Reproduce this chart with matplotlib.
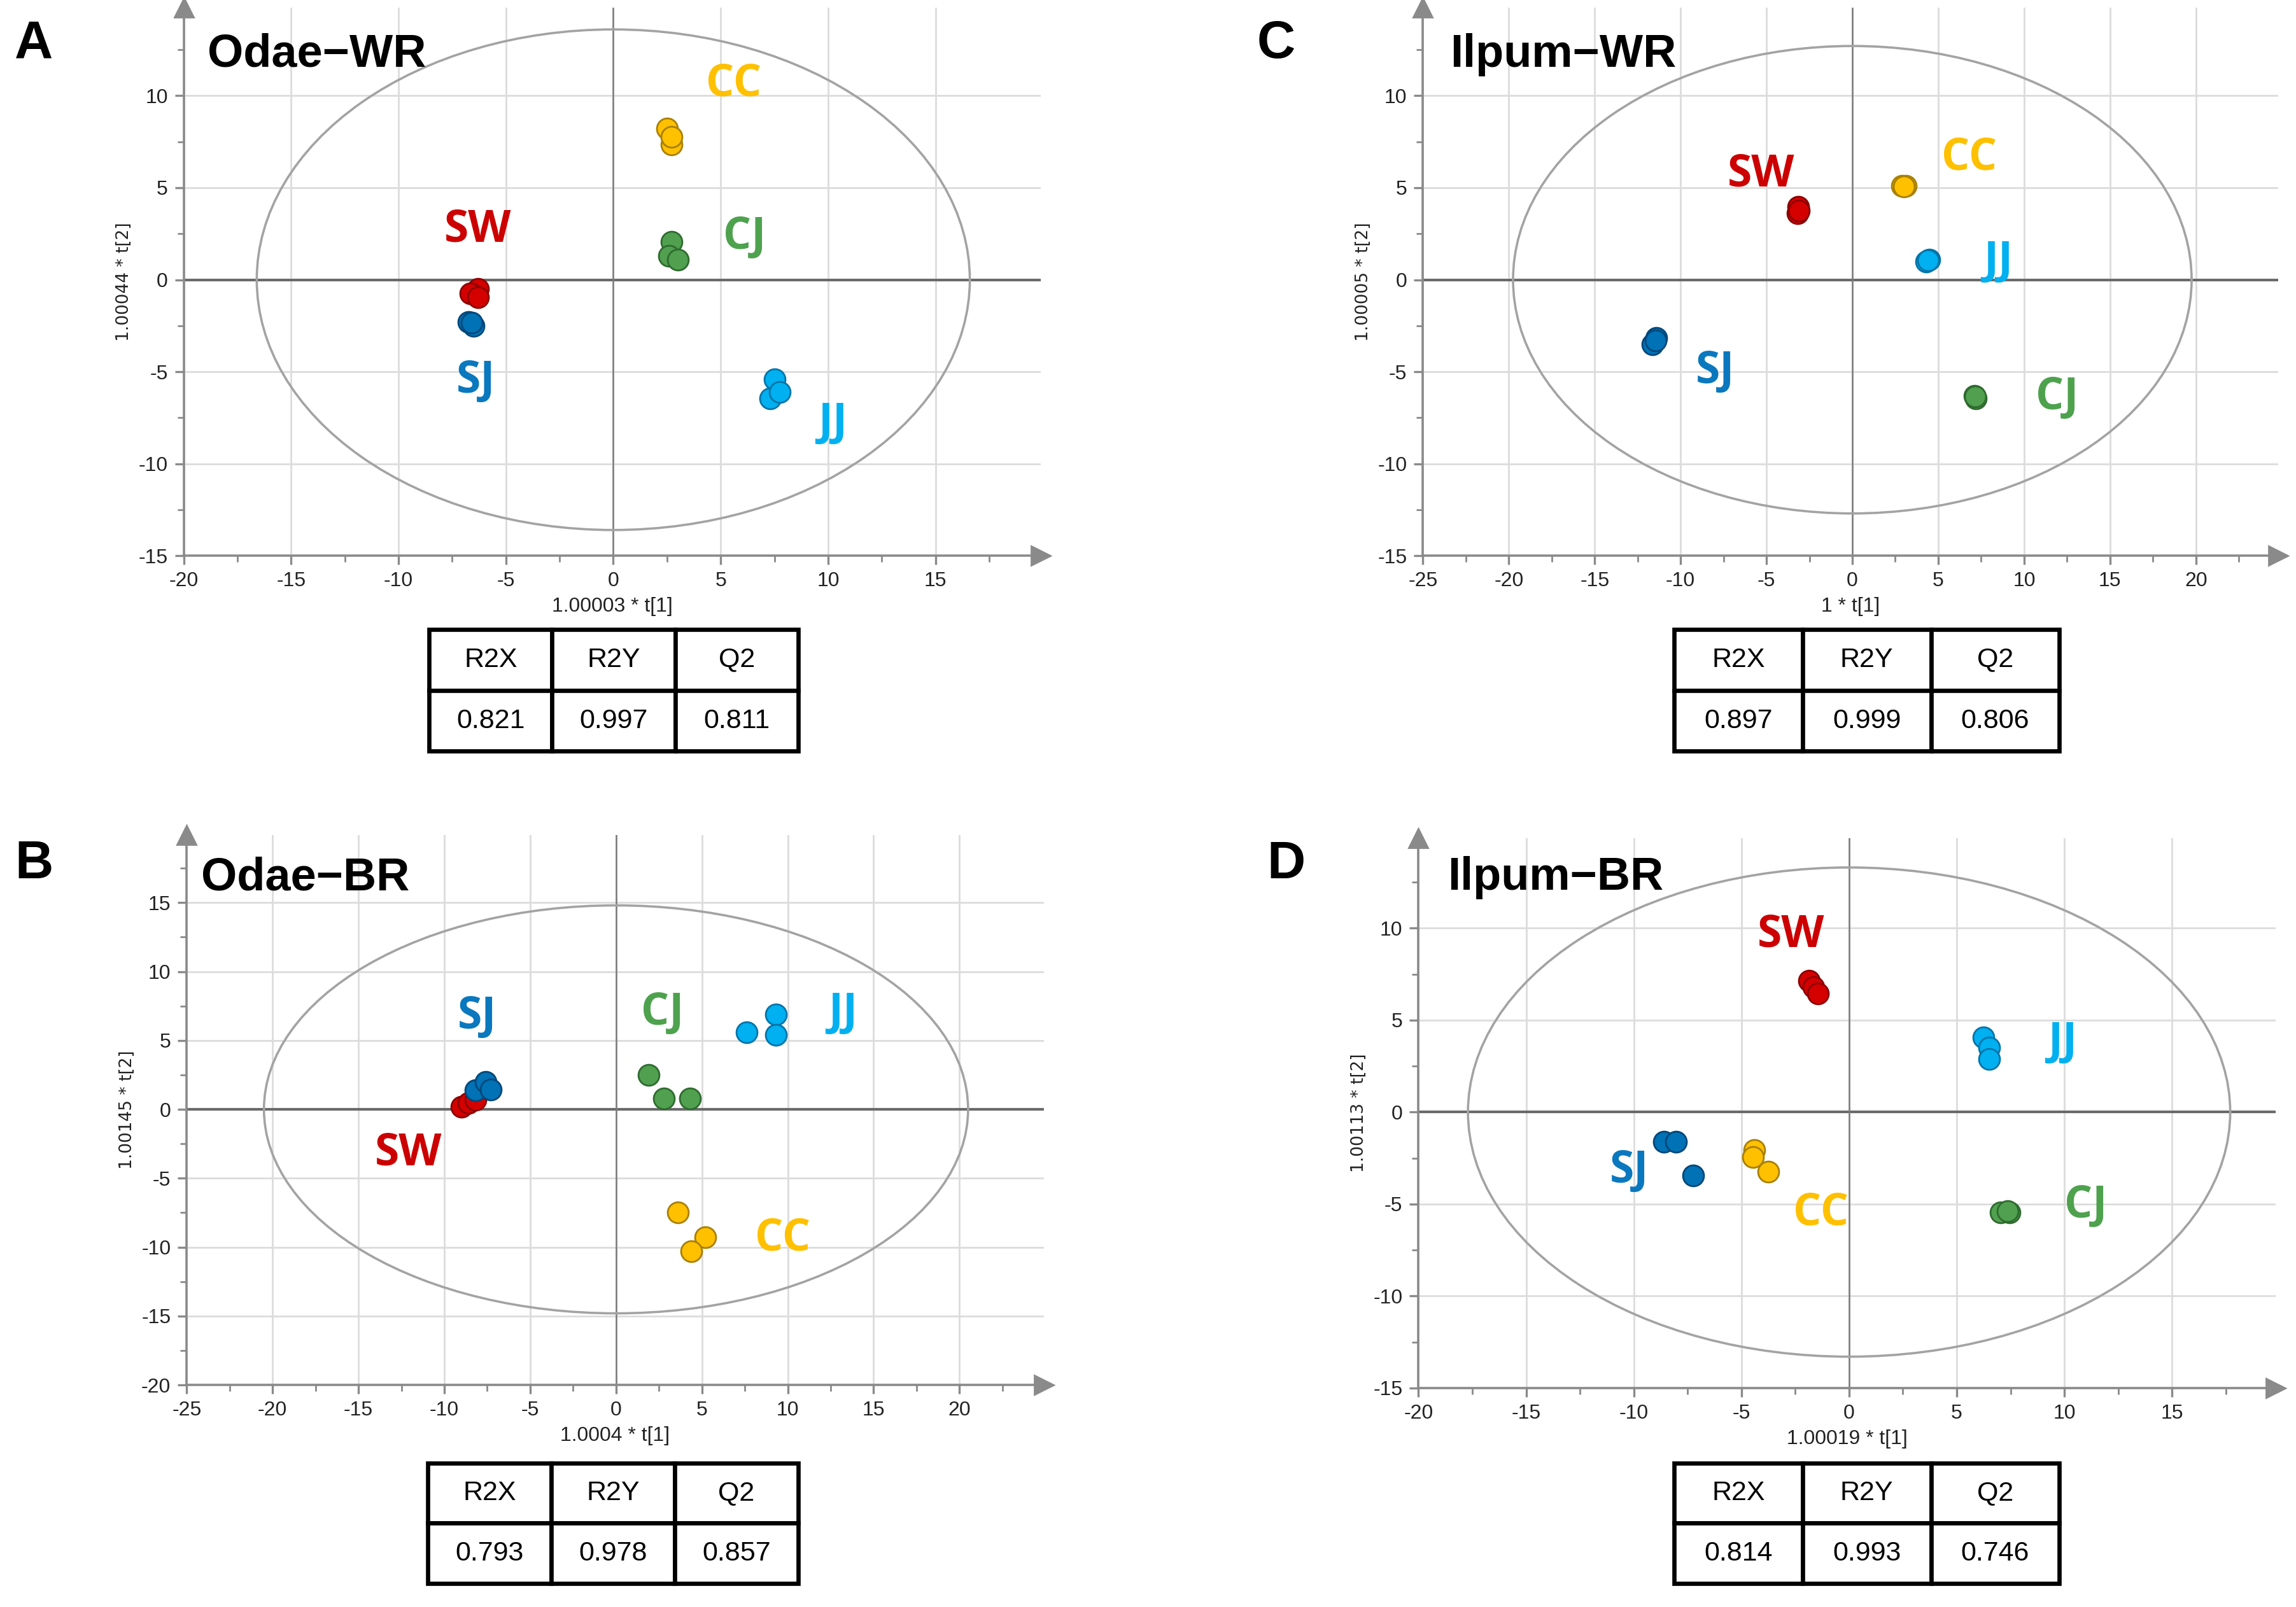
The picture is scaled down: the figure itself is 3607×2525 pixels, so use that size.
import matplotlib.pyplot as plt
from matplotlib.patches import Ellipse
from matplotlib.ticker import MultipleLocator

plt.rcParams['font.family'] = ['Liberation Sans Narrow', 'Liberation Sans', 'DejaVu Sans']
plt.rcParams['axes.unicode_minus'] = False

# --- data --------------------------------------------------------------
GROUPS = ['SW', 'SJ', 'CC', 'CJ', 'JJ']          # 3 replicates each, in this order
STAT_NAMES = ['R2X', 'R2Y', 'Q2']

ODAE_WR_T1 = [-6.3, -6.65, -6.3,  -6.75, -6.5, -6.6,  2.5, 2.7, 2.7,  2.7, 2.6, 3.0,  7.5, 7.3, 7.75]
ODAE_WR_T2 = [-0.5, -0.75, -0.95, -2.3, -2.5, -2.35,  8.2, 7.35, 7.75,  2.05, 1.3, 1.1,  -5.4, -6.45, -6.1]
ODAE_WR_STATS = [0.821, 0.997, 0.811]
ODAE_WR_ELLIPSE = [16.6, 13.6]

ILPUM_WR_T1 = [-3.15, -3.2, -3.1,  -11.65, -11.4, -11.45,  2.9, 3.1, 3.0,  7.1, 7.2, 7.15,  4.3, 4.5, 4.4]
ILPUM_WR_T2 = [3.95, 3.6, 3.75,  -3.5, -3.15, -3.3,  5.1, 5.1, 5.05,  -6.3, -6.45, -6.35,  1.0, 1.1, 1.05]
ILPUM_WR_STATS = [0.897, 0.999, 0.806]
ILPUM_WR_ELLIPSE = [19.75, 12.7]

ODAE_BR_T1 = [-9.0, -8.6, -8.2,  -8.2, -7.6, -7.3,  3.6, 5.2, 4.4,  1.9, 2.8, 4.3,  7.6, 9.3, 9.3]
ODAE_BR_T2 = [0.2, 0.45, 0.7,  1.4, 2.0, 1.45,  -7.5, -9.3, -10.3,  2.5, 0.8, 0.8,  5.6, 6.9, 5.4]
ODAE_BR_STATS = [0.793, 0.978, 0.857]
ODAE_BR_ELLIPSE = [20.5, 14.8]

ILPUM_BR_T1 = [-1.85, -1.65, -1.45,  -8.6, -8.05, -7.25,  -4.4, -4.45, -3.75,  7.05, 7.45, 7.35,  6.25, 6.5, 6.5]
ILPUM_BR_T2 = [7.15, 6.8, 6.45,  -1.6, -1.6, -3.45,  -2.05, -2.45, -3.25,  -5.45, -5.45, -5.4,  4.05, 3.5, 2.9]
ILPUM_BR_STATS = [0.814, 0.993, 0.746]
ILPUM_BR_ELLIPSE = [17.7, 13.3]

# --- styling ------------------------------------------------------------
FACE = {'SW': '#D40000', 'SJ': '#0072B5', 'CC': '#FFC000', 'CJ': '#50A050', 'JJ': '#00B0F0'}
EDGE = {'SW': '#8A0000', 'SJ': '#00477A', 'CC': '#A88000', 'CJ': '#2F6B2F', 'JJ': '#0074A8'}
TEXT = {'SW': '#CC0000', 'SJ': '#0A78BE', 'CC': '#FFC000', 'CJ': '#4EA24E', 'JJ': '#00B0F0'}

W, H = 1562.0, 1093.0   # reference layout measured in a 1562x1093 preview


def fx(px):
    return px / W


def fy(py):
    return 1 - py / H


fig = plt.figure(figsize=(18.035, 12.625), dpi=200)


def panel(box, xlim, ylim, t1, t2, ell, xlabel, ylabel, title, title_xy,
          label_pos, letter, letter_xy, table_box, stats):
    x0, y0, x1, y1 = box
    ax = fig.add_axes([fx(x0), fy(y1), fx(x1) - fx(x0), fy(y0) - fy(y1)])
    ax.set_xlim(xlim)
    ax.set_ylim(ylim)
    for s in ['top', 'right']:
        ax.spines[s].set_visible(False)
    for s in ['left', 'bottom']:
        ax.spines[s].set_color('#8a8a8a')
        ax.spines[s].set_linewidth(1.3)
    ax.xaxis.set_major_locator(MultipleLocator(5))
    ax.xaxis.set_minor_locator(MultipleLocator(2.5))
    ax.yaxis.set_major_locator(MultipleLocator(5))
    ax.yaxis.set_minor_locator(MultipleLocator(2.5))
    ax.tick_params(which='major', length=5, width=1.2, color='#8a8a8a',
                   labelsize=11.5, labelcolor='#222222', pad=4)
    ax.tick_params(which='minor', length=3.5, width=1.0, color='#8a8a8a')
    ax.grid(True, which='major', color='#dcdcdc', lw=1.0, zorder=0)
    ax.set_axisbelow(True)
    ax.axhline(0, color='#6a6a6a', lw=1.5, zorder=1)
    ax.axvline(0, color='#7a7a7a', lw=0.9, zorder=1)
    ax.add_patch(Ellipse((0, 0), 2 * ell[0], 2 * ell[1], fill=False,
                         ec='#a3a3a3', lw=1.3, zorder=2))

    # arrow heads at the end of the axes
    ax.plot([1], [0], marker='>', ms=11, color='#8a8a8a', transform=ax.transAxes,
            clip_on=False, zorder=5)
    ax.plot([0], [1], marker='^', ms=11, color='#8a8a8a', transform=ax.transAxes,
            clip_on=False, zorder=5)

    for gi, g in enumerate(GROUPS):
        xs = t1[gi * 3:gi * 3 + 3]
        ys = t2[gi * 3:gi * 3 + 3]
        ax.scatter(xs, ys, s=140, c=FACE[g], edgecolors=EDGE[g], linewidths=1.0,
                   zorder=4, clip_on=False)
        lx, ly = label_pos[g]
        ax.text(lx, ly, g, color=TEXT[g], fontsize=25, fontweight='bold',
                family=['Open Sans', 'DejaVu Sans'], ha='center', va='center', zorder=6)

    ax.set_xlabel(xlabel, fontsize=11.5, color='#222222')
    ax.xaxis.set_label_coords(0.5, -0.075)
    ax.set_ylabel(ylabel, fontsize=9.5, color='#222222', family=['DejaVu Sans'])
    ax.yaxis.set_label_coords(-0.06, 0.5)

    ax.text(title_xy[0], title_xy[1], title, transform=ax.transAxes, fontsize=26,
            fontweight='bold', ha='left', va='center', zorder=7)
    fig.text(fx(letter_xy[0]), fy(letter_xy[1]), letter, fontsize=30, fontweight='bold',
             family=['Liberation Sans', 'DejaVu Sans'], ha='left', va='center')

    # R2X / R2Y / Q2 summary table
    tx0, ty0, tx1, ty1 = table_box
    tax = fig.add_axes([fx(tx0), fy(ty1), fx(tx1) - fx(tx0), fy(ty0) - fy(ty1)])
    tax.axis('off')
    tb = tax.table(cellText=[[f'{v:.3f}' for v in stats]], colLabels=STAT_NAMES,
                   cellLoc='center', bbox=[0, 0, 1, 1])
    tb.auto_set_font_size(False)
    for cell in tb.get_celld().values():
        cell.set_linewidth(2.4)
        cell.set_edgecolor('black')
        cell.get_text().set_fontsize(15.5)
    return ax


panel((125, 5, 708, 378), (-20, 19.9), (-15, 14.8), ODAE_WR_T1, ODAE_WR_T2, ODAE_WR_ELLIPSE,
      '1.00003 * t[1]', '1.00044 * t[2]', 'Odae\u2212WR', (0.028, 0.914),
      {'SW': (-6.3, 2.7), 'SJ': (-6.4, -5.5), 'CC': (5.6, 10.6), 'CJ': (6.1, 2.3), 'JJ': (10.2, -7.8)},
      'A', (10, 30), (292, 428, 543, 511), ODAE_WR_STATS)

panel((968, 5, 1550, 378), (-25, 24.8), (-15, 14.8), ILPUM_WR_T1, ILPUM_WR_T2, ILPUM_WR_ELLIPSE,
      '1 * t[1]', '1.00005 * t[2]', 'Ilpum\u2212WR', (0.032, 0.914),
      {'SW': (-5.3, 5.7), 'SJ': (-8.0, -5.0), 'CC': (6.8, 6.6), 'CJ': (11.9, -6.4), 'JJ': (8.5, 1.0)},
      'C', (855, 30), (1139, 428, 1401, 511), ILPUM_WR_STATS)

panel((127, 568, 710, 942), (-25, 24.9), (-20, 19.9), ODAE_BR_T1, ODAE_BR_T2, ODAE_BR_ELLIPSE,
      '1.0004 * t[1]', '1.00145 * t[2]', 'Odae\u2212BR', (0.017, 0.922),
      {'SW': (-12.1, -3.2), 'SJ': (-8.1, 6.7), 'CC': (9.7, -9.4), 'CJ': (2.7, 7.0), 'JJ': (13.2, 7.0)},
      'B', (10, 588), (291, 995, 543, 1077), ODAE_BR_STATS)

panel((965, 570, 1548, 944), (-20, 19.8), (-15, 14.9), ILPUM_BR_T1, ILPUM_BR_T2, ILPUM_BR_ELLIPSE,
      '1.00019 * t[1]', '1.00113 * t[2]', 'Ilpum\u2212BR', (0.034, 0.928),
      {'SW': (-2.7, 9.6), 'SJ': (-10.2, -3.2), 'CC': (-1.3, -5.5), 'CJ': (11.0, -5.1), 'JJ': (9.9, 3.8)},
      'D', (862, 588), (1139, 995, 1401, 1077), ILPUM_BR_STATS)

fig.savefig('out.png', dpi=200, facecolor='white')
